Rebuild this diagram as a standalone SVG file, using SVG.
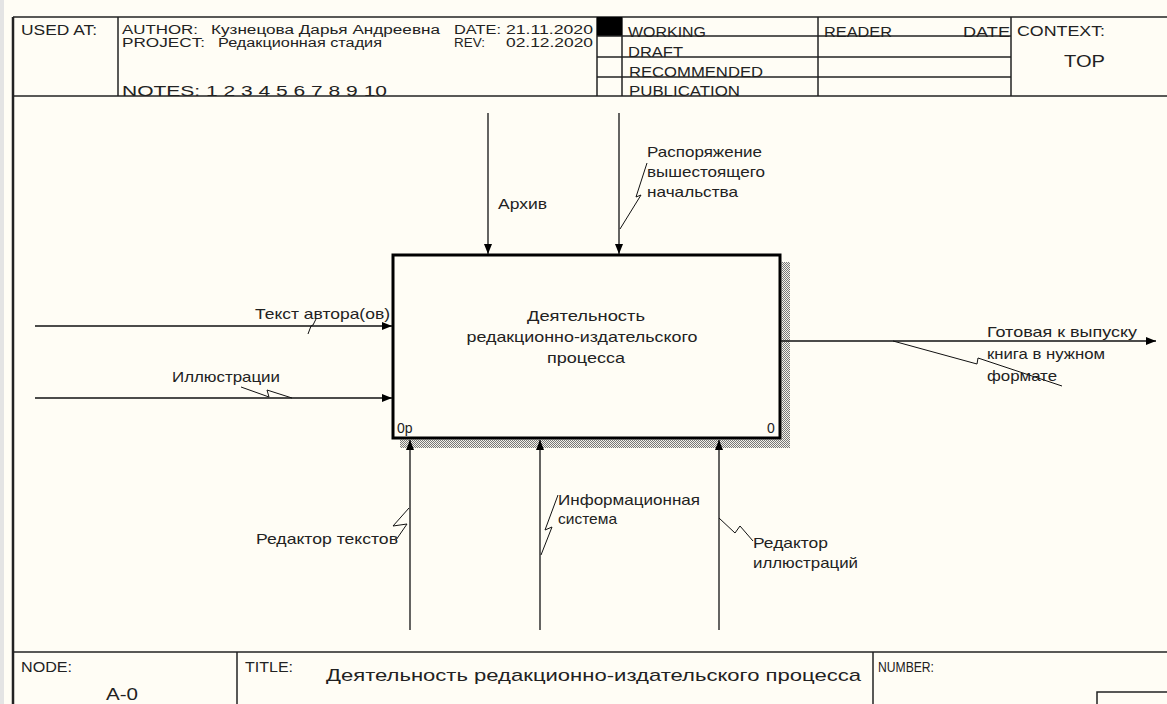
<svg xmlns="http://www.w3.org/2000/svg" width="1167" height="704" viewBox="0 0 1167 704">
<style>
.t{font-family:"Liberation Sans",Arial,sans-serif;font-size:14px;fill:#222}
.h{font-family:"Liberation Sans",Arial,sans-serif;font-size:12.5px;fill:#222}
.l{font-family:"Liberation Sans",Arial,sans-serif;font-size:15px;fill:#222}
.b{font-family:"Liberation Sans",Arial,sans-serif;font-size:17px;fill:#222}
.fr{stroke:#222;stroke-width:1.5;fill:none}
.cn{stroke:#111;stroke-width:1.3;fill:none}
.sq{stroke:#111;stroke-width:1;fill:none}
</style>
<defs>
<marker id="ah" markerUnits="userSpaceOnUse" markerWidth="10" markerHeight="8" refX="10" refY="4" orient="auto">
<path d="M0,0 L10,4 L0,8 z" fill="#000"/>
</marker>
<pattern id="hatch" width="2" height="2" patternUnits="userSpaceOnUse">
<rect width="2" height="2" fill="#f4f2ea"/>
<rect width="1" height="1" fill="#777"/>
<rect x="1" y="1" width="1" height="1" fill="#777"/>
</pattern>
</defs>
<rect width="1167" height="704" fill="#fffdf5"/>
<rect x="0" y="0" width="4" height="704" fill="#e4e4e4"/>

<g id="header">
<line class="fr" x1="13" y1="17" x2="1167" y2="17"/>
<line class="fr" x1="13" y1="96" x2="1167" y2="96"/>
<line class="fr" x1="118" y1="17" x2="118" y2="96"/>
<line class="fr" x1="597" y1="17" x2="597" y2="96"/>
<line class="fr" x1="622" y1="17" x2="622" y2="96"/>
<line class="fr" x1="818" y1="17" x2="818" y2="96"/>
<line class="fr" x1="1011" y1="17" x2="1011" y2="96"/>
<rect x="597" y="17" width="25" height="19" fill="#000"/>
<text class="t" x="21" y="35" textLength="76" lengthAdjust="spacingAndGlyphs">USED AT:</text>
<text class="h" x="122" y="34" textLength="76" lengthAdjust="spacingAndGlyphs">AUTHOR:</text>
<text class="h" x="211" y="34" textLength="229" lengthAdjust="spacingAndGlyphs">Кузнецова Дарья Андреевна</text>
<text class="h" x="122" y="46.5" textLength="83" lengthAdjust="spacingAndGlyphs">PROJECT:</text>
<text class="h" x="218" y="46.5" textLength="164" lengthAdjust="spacingAndGlyphs">Редакционная стадия</text>
<text class="t" x="122" y="96" textLength="265" lengthAdjust="spacingAndGlyphs">NOTES:  1  2  3  4  5  6  7  8  9  10</text>
<text class="h" x="454" y="34" textLength="47" lengthAdjust="spacingAndGlyphs">DATE:</text>
<text class="h" x="506" y="34" textLength="87" lengthAdjust="spacingAndGlyphs">21.11.2020</text>
<text class="h" x="454" y="46.5" textLength="31" lengthAdjust="spacingAndGlyphs">REV:</text>
<text class="h" x="506" y="46.5" textLength="87" lengthAdjust="spacingAndGlyphs">02.12.2020</text>
<text class="t" x="628" y="37" textLength="78" lengthAdjust="spacingAndGlyphs">WORKING</text>
<text class="t" x="628" y="57" textLength="55" lengthAdjust="spacingAndGlyphs">DRAFT</text>
<text class="t" x="629" y="77" textLength="134" lengthAdjust="spacingAndGlyphs">RECOMMENDED</text>
<text class="t" x="629" y="96" textLength="111" lengthAdjust="spacingAndGlyphs">PUBLICATION</text>
<text class="t" x="824" y="37" textLength="68" lengthAdjust="spacingAndGlyphs">READER</text>
<text class="t" x="963" y="37" textLength="47" lengthAdjust="spacingAndGlyphs">DATE</text>
<text class="t" x="1017" y="36" textLength="88" lengthAdjust="spacingAndGlyphs">CONTEXT:</text>
<text class="b" x="1064" y="67" font-size="19" textLength="41" lengthAdjust="spacingAndGlyphs">TOP</text>
<line class="fr" x1="597" y1="36" x2="1011" y2="36"/>
<line class="fr" x1="597" y1="57" x2="1011" y2="57"/>
<line class="fr" x1="597" y1="77" x2="1011" y2="77"/>
</g>

<line x1="13" y1="17" x2="13" y2="704" stroke="#222" stroke-width="2.5"/>

<g id="footer">
<line class="fr" x1="13" y1="652" x2="1167" y2="652"/>
<line class="fr" x1="237" y1="652" x2="237" y2="704"/>
<line class="fr" x1="873" y1="652" x2="873" y2="704"/>
<rect class="fr" x="1097" y="692" width="80" height="20"/>
<text class="t" x="21" y="672" textLength="51" lengthAdjust="spacingAndGlyphs">NODE:</text>
<text class="b" x="106" y="700" textLength="32" lengthAdjust="spacingAndGlyphs">A-0</text>
<text class="t" x="245" y="672" textLength="48" lengthAdjust="spacingAndGlyphs">TITLE:</text>
<text class="b" x="326" y="681" textLength="535" lengthAdjust="spacingAndGlyphs">Деятельность редакционно-издательского процесса</text>
<text class="t" x="878" y="672" textLength="56" lengthAdjust="spacingAndGlyphs">NUMBER:</text>
</g>

<g id="node-A0">
<rect x="781.5" y="262" width="8.5" height="186" fill="url(#hatch)"/>
<rect x="400" y="439.5" width="390" height="8.5" fill="url(#hatch)"/>
<rect x="393" y="255" width="387" height="183" fill="#fffdf5" stroke="#000" stroke-width="3"/>
<text class="l" x="586" y="321" text-anchor="middle" textLength="118" lengthAdjust="spacingAndGlyphs">Деятельность</text>
<text class="l" x="582" y="342" text-anchor="middle" textLength="231" lengthAdjust="spacingAndGlyphs">редакционно-издательского</text>
<text class="l" x="586" y="363" text-anchor="middle" textLength="78" lengthAdjust="spacingAndGlyphs">процесса</text>
<text class="t" x="397" y="433">0р</text>
<text class="t" x="767" y="433">0</text>
</g>

<g id="connectors">
<path class="cn" d="M488,113 V254" marker-end="url(#ah)"/>
<path class="cn" d="M619,113 V254" marker-end="url(#ah)"/>
<path class="cn" d="M35,326 H392" marker-end="url(#ah)"/>
<path class="cn" d="M35,398 H392" marker-end="url(#ah)"/>
<path class="cn" d="M781,341 H1156" marker-end="url(#ah)"/>
<path class="cn" d="M410,630 V440" marker-end="url(#ah)"/>
<path class="cn" d="M540,630 V440" marker-end="url(#ah)"/>
<path class="cn" d="M719,630 V440" marker-end="url(#ah)"/>
<polyline class="sq" points="647,163 636,197 641,195 620,229"/>
<polyline class="sq" points="316,319 313,325 311,326 308,334"/>
<polyline class="sq" points="241,387 269,397 267,390 292,398"/>
<polyline class="sq" points="893,341 977,364 978,358 1062,386"/>
<polyline class="sq" points="409,508 393,526 407,524 396,540"/>
<polyline class="sq" points="558,495 545,530 552,527 541,555"/>
<polyline class="sq" points="719,518 735,533 740,526 753,541"/>
<text class="l" x="498" y="209" textLength="49" lengthAdjust="spacingAndGlyphs">Архив</text>
<text class="l" x="647" y="157" textLength="115" lengthAdjust="spacingAndGlyphs">Распоряжение</text>
<text class="l" x="647" y="177" textLength="118" lengthAdjust="spacingAndGlyphs">вышестоящего</text>
<text class="l" x="647" y="197" textLength="91" lengthAdjust="spacingAndGlyphs">начальства</text>
<text class="l" x="255" y="319" textLength="135" lengthAdjust="spacingAndGlyphs">Текст автора(ов)</text>
<text class="l" x="172" y="382" textLength="108" lengthAdjust="spacingAndGlyphs">Иллюстрации</text>
<text class="l" x="987" y="337" textLength="150" lengthAdjust="spacingAndGlyphs">Готовая к выпуску</text>
<text class="l" x="987" y="359" textLength="118" lengthAdjust="spacingAndGlyphs">книга в нужном</text>
<text class="l" x="987" y="381" textLength="70" lengthAdjust="spacingAndGlyphs">формате</text>
<text class="l" x="256" y="544" textLength="142" lengthAdjust="spacingAndGlyphs">Редактор текстов</text>
<text class="l" x="558" y="505" textLength="142" lengthAdjust="spacingAndGlyphs">Информационная</text>
<text class="l" x="558" y="524" textLength="59" lengthAdjust="spacingAndGlyphs">система</text>
<text class="l" x="753" y="548" textLength="75" lengthAdjust="spacingAndGlyphs">Редактор</text>
<text class="l" x="753" y="568" textLength="105" lengthAdjust="spacingAndGlyphs">иллюстраций</text>
</g>
</svg>
